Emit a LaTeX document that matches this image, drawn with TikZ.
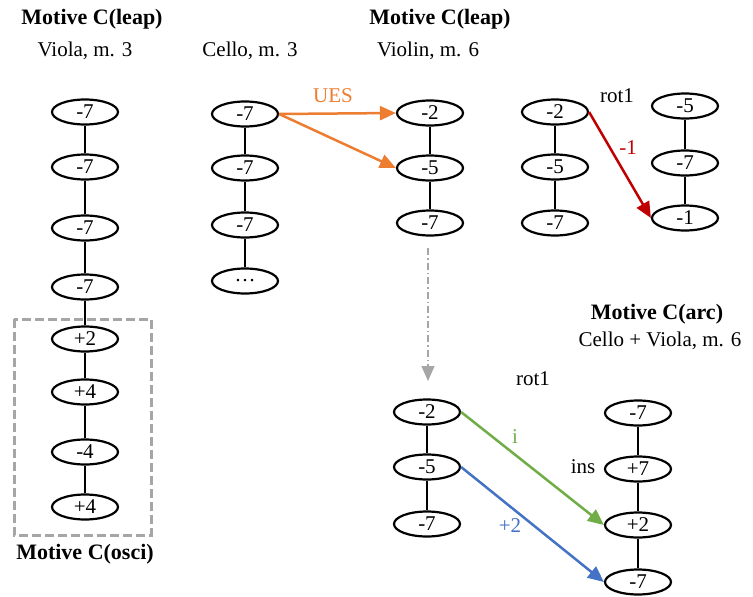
\documentclass[tikz,border=0pt]{standalone}
\usepackage{fontspec}
\setmainfont{Liberation Serif}
\usepackage{tikz}
\usetikzlibrary{shapes.geometric, arrows.meta, positioning, calc}
\definecolor{uesorange}{RGB}{237,125,49}
\definecolor{rotred}{RGB}{192,0,0}
\definecolor{igreen}{RGB}{112,173,71}
\definecolor{tblue}{RGB}{68,114,196}
\definecolor{boxgray}{RGB}{166,166,166}

\begin{document}
\begin{tikzpicture}[
    x=1pt, y=-1pt,
    tone/.style={ellipse, draw, line width=2.2pt, minimum width=66pt, minimum height=25pt, inner sep=0pt, font=\fontsize{21}{23}\selectfont},
    link/.style={line width=1.1pt},
    title/.style={font=\fontsize{22}{26}\selectfont\bfseries},
    sub/.style={font=\fontsize{21}{25}\selectfont},
    lab/.style={font=\fontsize{21}{25}\selectfont},
    move/.style={line width=2.5pt, -{Triangle[length=16pt, width=14pt]}},
    ]
\useasboundingbox (0,0) rectangle (753,597);

% Viola column
\foreach \t/\y [count=\i] in {-7/112, -7/167, -7/228, -7/287, +2/339, +4/392, -4/452, +4/507}
    \node[tone] (va\i) at (85,\y) {\t};
\foreach \i/\j in {1/2, 2/3, 3/4, 4/5, 5/6, 6/7, 7/8}
    \draw[link] (va\i) -- (va\j);
\draw[boxgray, line width=3pt, dash pattern=on 9pt off 4pt] (14,319) rectangle (151,535);

% Cello column
\foreach \t/\y [count=\i] in {-7/114, -7/168, -7/225, \dots/281}
    \node[tone] (ce\i) at (245,\y) {\t};
\foreach \i/\j in {1/2, 2/3, 3/4}
    \draw[link] (ce\i) -- (ce\j);

% Violin column
\foreach \t/\y [count=\i] in {-2/113, -5/168, -7/223}
    \node[tone] (vn\i) at (430,\y) {\t};
\foreach \i/\j in {1/2, 2/3}
    \draw[link] (vn\i) -- (vn\j);

% rot1 (top)
\foreach \t/\y [count=\i] in {-2/112, -5/167, -7/223}
    \node[tone] (ra\i) at (555,\y) {\t};
\foreach \t/\y [count=\i] in {-5/106, -7/163, -1/218}
    \node[tone] (rb\i) at (685,\y) {\t};
\foreach \i/\j in {1/2, 2/3}
    \draw[link] (ra\i) -- (ra\j);
\foreach \i/\j in {1/2, 2/3}
    \draw[link] (rb\i) -- (rb\j);

% rot1 (bottom)
\foreach \t/\y [count=\i] in {-2/412, -5/467, -7/524}
    \node[tone] (ba\i) at (427,\y) {\t};
\foreach \t/\y [count=\i] in {-7/413, +7/469, +2/525, -7/582}
    \node[tone] (bb\i) at (638,\y) {\t};
\foreach \i/\j in {1/2, 2/3}
    \draw[link] (ba\i) -- (ba\j);
\foreach \i/\j in {1/2, 2/3, 3/4}
    \draw[link] (bb\i) -- (bb\j);

% Titles
\node[title] (t1) at (92,19) {Motive C(leap)};
\node[sub] (s1) at (85,51) {Viola, m. 3};
\node[sub] (s2) at (250,51) {Cello, m. 3};
\node[title] (t2) at (440,19) {Motive C(leap)};
\node[sub] (s3) at (428,51) {Violin, m. 6};
\node[title] (t3) at (85,554) {Motive C(osci)};
\node[title] (t4) at (657,314) {Motive C(arc)};
\node[sub] (s4) at (660,341) {Cello + Viola, m. 6};

% Transformations
\draw[move, uesorange] (ce1.east) -- (vn1.west);
\draw[move, uesorange] (ce1.east) -- (vn2.west);
\node[lab, text=uesorange] (ues) at (333,96) {UES};

\node[lab] (rt1) at (617,96) {rot1};
\draw[move, rotred] (ra1.east) -- (rb3.west);
\node[lab, text=rotred] (m1) at (628,148) {-1};

\coordinate (gs) at (428,248);
\coordinate (ge) at (428,381);
\draw[boxgray, line width=1.2pt, dash pattern=on 7pt off 3pt on 1.5pt off 3pt, -{Triangle[length=15pt, width=13pt]}] (gs) -- (ge);

\node[lab] (rt2) at (533,379) {rot1};
\draw[move, igreen] (ba1.east) -- (bb3.west);
\draw[move, tblue] (ba2.east) -- (bb4.west);
\node[lab, text=igreen] (il) at (515,437) {i};
\node[lab] (ins) at (583,467) {ins};
\node[lab, text=tblue] (p2) at (510,526) {+2};
\end{tikzpicture}
\end{document}
